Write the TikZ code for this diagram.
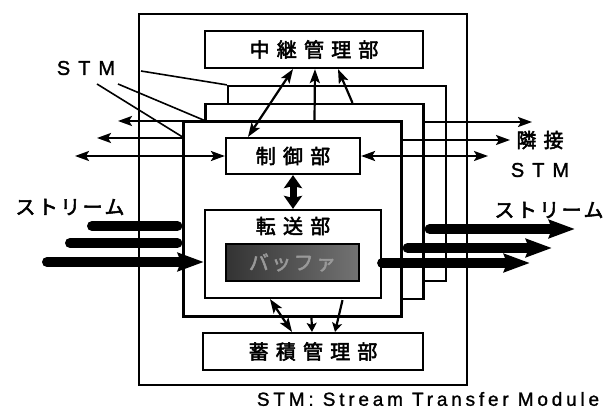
\documentclass[tikz,border=0pt]{standalone}
\usepackage{fontspec}
\setmainfont{Liberation Sans}
\newfontfamily\jpfont[LetterSpace=36,FakeBold=2.5]{Noto Sans CJK JP}
\newfontfamily\jpkana[LetterSpace=12,FakeBold=2.5]{Noto Sans CJK JP}
\newfontfamily\stmfont[LetterSpace=40,FakeBold=1.5]{Liberation Sans}
\newfontfamily\notefont[LetterSpace=20,FakeBold=1.2]{Liberation Sans}
\usetikzlibrary{arrows.meta,calc}

\begin{document}
\begin{tikzpicture}[x=1pt, y=-1pt,
  blk/.style={draw, line width=2.2pt, fill=white, inner sep=0pt},
  stmbox/.style={blk, minimum width=218pt, minimum height=195pt},
  jp/.style={font=\jpfont\fontsize{20}{24}\selectfont},
  kana/.style={font=\jpkana\fontsize{20}{24}\selectfont},
  lat/.style={font=\stmfont\fontsize{20}{24}\selectfont},
  sig/.style={line width=2.2pt, -{Stealth[length=14pt,width=10pt,inset=3pt]}},
  sigboth/.style={line width=2.2pt, {Stealth[length=14pt,width=10pt,inset=3pt]}-{Stealth[length=14pt,width=10pt,inset=3pt]}},
  sigsm/.style={line width=2.2pt, -{Stealth[length=9pt,width=10pt,inset=2pt]}},
  fat/.style={line width=7pt, {Stealth[length=13pt,width=18pt,inset=2pt]}-{Stealth[length=13pt,width=18pt,inset=2pt]}},
  stream/.style={line width=10pt, line cap=round, -{Stealth[length=26pt,width=18pt,inset=3pt]}},
  ]
\useasboundingbox (0,0) rectangle (611,414);
\fill[white] (0,0) rectangle (611,414);

% frame and managers
\node[blk, minimum width=328pt, minimum height=371pt] (outer) at (303,199.5) {};
\node[blk, minimum width=218pt, minimum height=37pt, jp] (relay) at (314,49.5) {中継管理部};
\node[blk, minimum width=220pt, minimum height=37pt, jp] (store) at (313,351.5) {蓄積管理部};

% stacked STMs, back to front
\node[stmbox] (stmC) at (337,183.5) {};
\node[stmbox] (stmB) at (314.5,201.5) {};
\node[stmbox] (stmA) at (292.5,219) {};
\node[blk, minimum width=134pt, minimum height=36pt, jp] (ctrl) at (293,156) {制御部};
\node[blk, minimum width=176pt, minimum height=88pt] (xfer) at (293,254) {};
\node[jp] (xferlbl) at (293,226) {転送部};
\node[blk, minimum width=133pt, minimum height=37pt, left color=black!80, right color=black!55,
  text=black!40, font=\jpkana\fontsize{20}{24}\selectfont] (buf) at (292.5,262.5) {バッファ};

% labels
\node[lat] (stmlbl) at (86,68) {STM};
\node[kana] (lstream) at (70,207) {ストリーム};
\node[kana] (rstream) at (549,210) {ストリーム};
\node[jp] (nbr) at (540,140) {隣接};
\node[lat] (nbrstm) at (540,170) {STM};
\node[font=\notefont\fontsize{19}{23}\selectfont] (note) at (428,399) {STM: Stream Transfer Module};

% free ends
\coordinate (t1) at (141,71);
\coordinate (t2) at (118,84);
\coordinate (t3) at (97,84);
\coordinate (wl1) at (118,121);
\coordinate (wl2) at (97,138);
\coordinate (wl3) at (75,156);
\coordinate (er1) at (532,122);
\coordinate (er2) at (510,140);
\coordinate (er3) at (488,156);
\coordinate (si1) at (92,226);
\coordinate (si2) at (70,243);
\coordinate (si3) at (47,262);
\coordinate (so1) at (575,229);
\coordinate (so2) at (552,248);
\coordinate (so3) at (530,263);

% STM pointers
\draw[line width=1.6pt] (t1) -- (stmC.north west);
\draw[line width=1.6pt] (t2) -- (stmB.west |- stmA.north);
\draw[line width=1.6pt] (t3) -- (stmA.west |- ctrl.north);

% to relay manager
\draw[sigboth] ([xshift=-45pt]ctrl.north) -- ([xshift=-21pt]relay.south);
\draw[sig] ([xshift=22pt]stmA.north) -- ([xshift=1pt]relay.south);
\draw[sig] ([xshift=38pt]stmB.north) -- ([xshift=24pt]relay.south);

% control <-> transfer
\draw[fat] (ctrl.south) -- (xfer.north);

% to storage manager
\draw[sigboth] ([xshift=-23pt]xfer.south) -- ([xshift=-21pt]store.north);
\draw[sigsm] ([xshift=19pt]stmA.south) -- ([xshift=-1pt]store.north);
\draw[sigsm] ([xshift=28pt]stmB.south) -- ([xshift=22pt]store.north);

% neighbour links
\draw[sig] (stmB.west |- wl1) -- (wl1);
\draw[sig] (stmA.west |- wl2) -- (wl2);
\draw[sigboth] (ctrl.west) -- (ctrl.west -| wl3);
\draw[sig] (stmB.east |- er1) -- (er1);
\draw[sig] (stmA.east |- er2) -- (er2);
\draw[sigboth] (ctrl.east) -- (ctrl.east -| er3);

% streams
\draw[stream, -, shorten >=5pt] (si1) -- (stmA.west |- si1);
\draw[stream, -, shorten >=5pt] (si2) -- (stmA.west |- si2);
\draw[stream] (si3) -- (xfer.west |- si3);
\draw[stream, shorten <=5pt] (stmB.east |- so1) -- (so1);
\draw[stream, shorten <=5pt] (stmA.east |- so2) -- (so2);
\draw[stream] (xfer.east |- so3) -- (so3);
\end{tikzpicture}
\end{document}
